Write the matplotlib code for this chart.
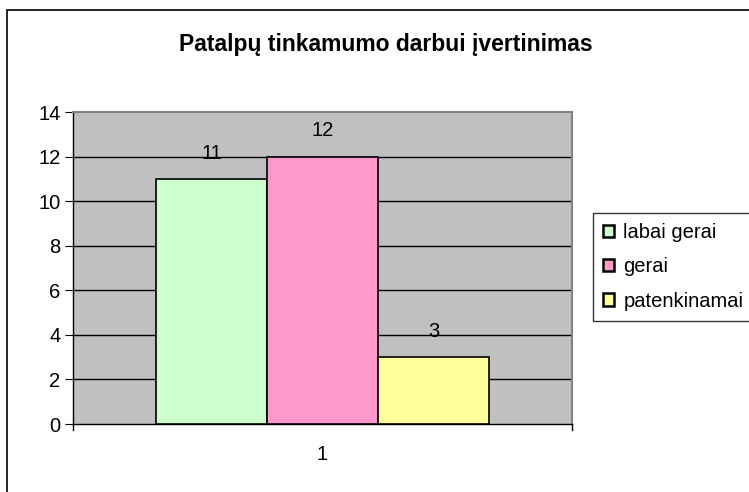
import matplotlib
matplotlib.use("Agg")
import matplotlib.pyplot as plt
from matplotlib.patches import Rectangle
from matplotlib.lines import Line2D

plt.rcParams['font.family'] = ['Liberation Sans', 'DejaVu Sans']

title = "Patalpų tinkamumo darbui įvertinimas"
series = ['labai gerai', 'gerai', 'patenkinamai']
values = [11, 12, 3]
colors = ['#CCFFCC', '#FF99CC', '#FFFF99']
category = ['1']

W, H = 749, 492
fig = plt.figure(figsize=(W / 100, H / 100), dpi=100)
fs = 14.5

# outer chart frame (clipped on the right and bottom like the original)
fig.patches.append(Rectangle((7 / W, -0.05), 1.1, (H - 10) / H + 0.05,
                             transform=fig.transFigure, fill=False,
                             edgecolor='black', linewidth=1.2))

ax = fig.add_axes([73 / W, (H - 424) / H, 499 / W, 312 / H])
ax.set_facecolor('#C0C0C0')

bw = 0.2224
offsets = [-bw, 0, bw]
for name, v, c, off in zip(series, values, colors, offsets):
    ax.bar(1 + off, v, width=bw, color=c, edgecolor='black', linewidth=1.2,
           label=name, zorder=3)
    ax.text(1 + off, v + 1.15, str(v), ha='center', va='center', fontsize=fs,
            zorder=4)

ax.set_xlim(0.5, 1.5)
ax.set_ylim(0, 14)
ax.set_yticks(range(0, 15, 2))
ax.tick_params(axis='y', direction='out', length=6, labelsize=fs, pad=3)
for y in range(2, 14, 2):
    ax.axhline(y, color='black', linewidth=1.0, zorder=1)

ax.set_xticks([1])
ax.set_xticklabels(category, fontsize=fs)
ax.tick_params(axis='x', length=0, pad=15)
for xe in (0.5, 1.5):
    ax.add_line(Line2D([xe, xe], [0, -0.25], color='black', linewidth=1.0,
                       clip_on=False))

for side in ('top', 'right'):
    ax.spines[side].set_color('#808080')
    ax.spines[side].set_linewidth(1.5)
ax.spines['left'].set_linewidth(1.0)
ax.spines['bottom'].set_linewidth(1.0)

fig.text(386 / W, 1 - 44 / H, title, ha='center', va='center',
         fontsize=16.5, fontweight='bold')

leg = ax.legend(loc='center left', bbox_to_anchor=(593 / W, 1 - 267 / H),
                bbox_transform=fig.transFigure, fontsize=fs, frameon=True,
                fancybox=False, edgecolor='black', handlelength=0.55,
                handleheight=0.55, handletextpad=0.45, labelspacing=0.75,
                borderpad=0.5, borderaxespad=0)
leg.get_frame().set_linewidth(1.0)
for h in leg.legend_handles:
    h.set_linewidth(1.8)

fig.savefig('out.png', dpi=100)
